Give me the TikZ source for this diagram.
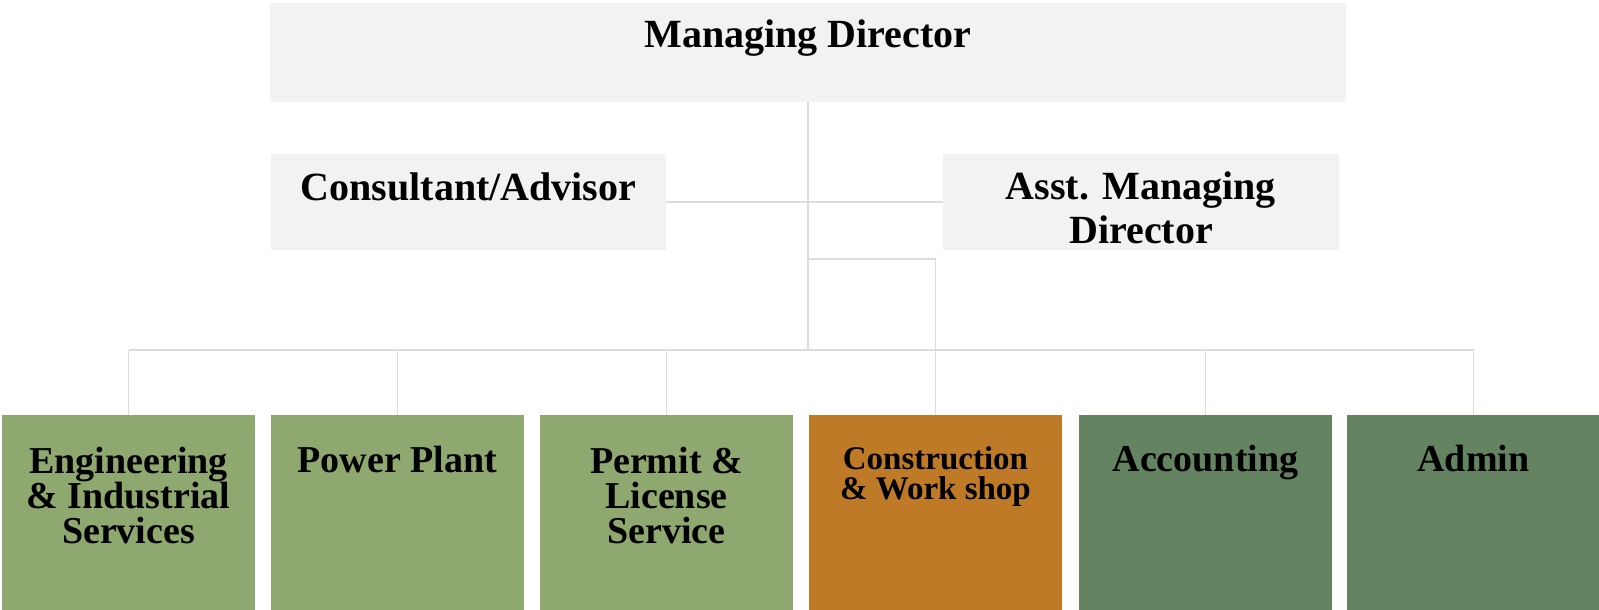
\documentclass[tikz,border=0pt]{standalone}
\usepackage{fontspec}
\setmainfont{Liberation Serif}
\definecolor{boxgray}{HTML}{F2F2F2}
\definecolor{lightgreen}{HTML}{8FA86F}
\definecolor{orangebox}{HTML}{BE7A27}
\definecolor{darkgreen}{HTML}{648360}
\definecolor{linegray}{HTML}{DCDCDC}
\begin{document}
\begin{tikzpicture}[x=1pt,y=-1pt,
  box/.style={rectangle,inner sep=0pt,outer sep=0pt,anchor=north west},
  topbox/.style={box,fill=boxgray},
  botbox/.style={box,minimum width=253pt,minimum height=195pt},
  conn/.style={draw=linegray,line width=1.3pt},
  toptext/.style={anchor=base,inner sep=0pt,align=center,font=\bfseries\fontsize{40}{44}\selectfont},
  bottext/.style={anchor=base,inner sep=0pt,align=center,font=\bfseries\fontsize{38}{35}\selectfont},
  smalltext/.style={anchor=base,inner sep=0pt,align=center,font=\bfseries\fontsize{33}{30}\selectfont}]
\useasboundingbox (0,0) rectangle (1599,610);
% boxes
\node[topbox,minimum width=1076pt,minimum height=99pt] (md) at (270,3) {};
\node[topbox,minimum width=395pt,minimum height=96pt] (cons) at (271,154) {};
\node[topbox,minimum width=396pt,minimum height=96pt] (amd) at (943,154) {};
\node[botbox,fill=lightgreen] (eng) at (2,415) {};
\node[botbox,fill=lightgreen] (pow) at (271,415) {};
\node[botbox,fill=lightgreen] (per) at (540,415) {};
\node[botbox,fill=orangebox] (con) at (809,415) {};
\node[botbox,fill=darkgreen] (acc) at (1079,415) {};
\node[botbox,fill=darkgreen] (adm) at (1347,415) {};
% connectors
\coordinate (bus) at (808,350);
\coordinate (branch) at (808,259);
\coordinate (busL) at (eng.north |- bus);
\coordinate (busR) at (adm.north |- bus);
\draw[conn] (md.south) -- (bus);
\draw[conn] (cons.east) -- (amd.west);
\draw[conn] (branch) -| (con.north);
\draw[conn] (busL) -- (busR);
\foreach \b in {eng,pow,per,acc,adm}{
  \draw[conn] (\b.north |- bus) -- (\b.north);
}
% texts (base anchor of multi-line nodes = last line's baseline)
\node[toptext] (mdT) at (808,48) {Managing Director};
\node[toptext] (consT) at (468.5,200) {Consultant/Advisor};
\node[toptext] (amdT) at (1141,243) {Asst. Managing\\Director};
\node[bottext] (engT) at (128.5,543) {Engineering\\\& Industrial\\Services};
\node[bottext] (powT) at (397.5,472) {Power Plant};
\node[bottext] (perT) at (666.5,543) {Permit \&\\License\\Service};
\node[smalltext] (conT) at (935.5,499) {Construction\\\& Work shop};
\node[bottext] (accT) at (1205.5,471) {Accounting};
\node[bottext] (admT) at (1473.5,471) {Admin};
\end{tikzpicture}
\end{document}
